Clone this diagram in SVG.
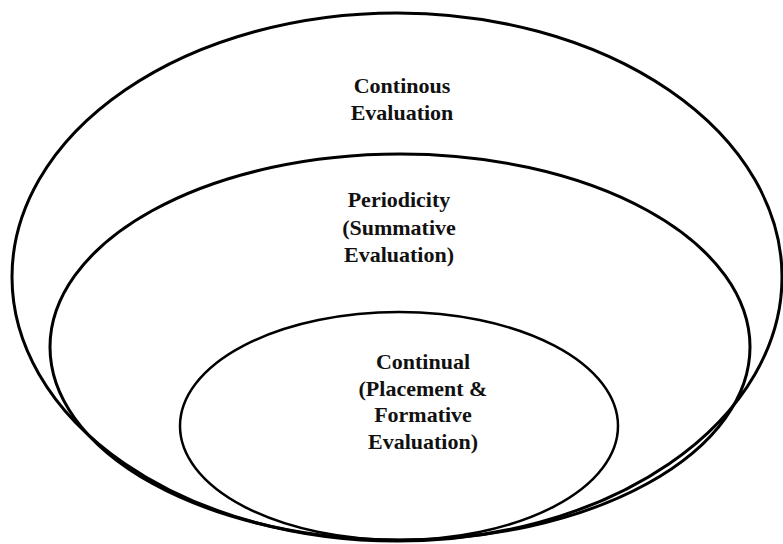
<svg xmlns="http://www.w3.org/2000/svg" width="783" height="544" viewBox="0 0 783 544">
<style>
.ring{fill:none;stroke:#000;stroke-width:3}
.lbl{font-family:"Liberation Serif","Times New Roman",serif;font-weight:bold;font-size:22px;fill:#111;text-anchor:middle}
</style>
<rect width="783" height="544" fill="#fff"/>
<g id="outer">
<ellipse class="ring" cx="397" cy="277" rx="385" ry="264"/>
<text class="lbl" x="402" y="93">Continous</text>
<text class="lbl" x="402" y="120">Evaluation</text>
</g>
<g id="middle">
<ellipse class="ring" cx="400" cy="347" rx="350" ry="193"/>
<text class="lbl" x="399" y="207">Periodicity</text>
<text class="lbl" x="399" y="235">(Summative</text>
<text class="lbl" x="399" y="262">Evaluation)</text>
</g>
<g id="inner">
<ellipse class="ring" cx="399" cy="426" rx="219" ry="114" style="stroke-width:2.5"/>
<text class="lbl" x="423" y="369">Continual</text>
<text class="lbl" x="423" y="396">(Placement &amp;</text>
<text class="lbl" x="423" y="422">Formative</text>
<text class="lbl" x="423" y="449">Evaluation)</text>
</g>
<g id="connectors"/>
</svg>
